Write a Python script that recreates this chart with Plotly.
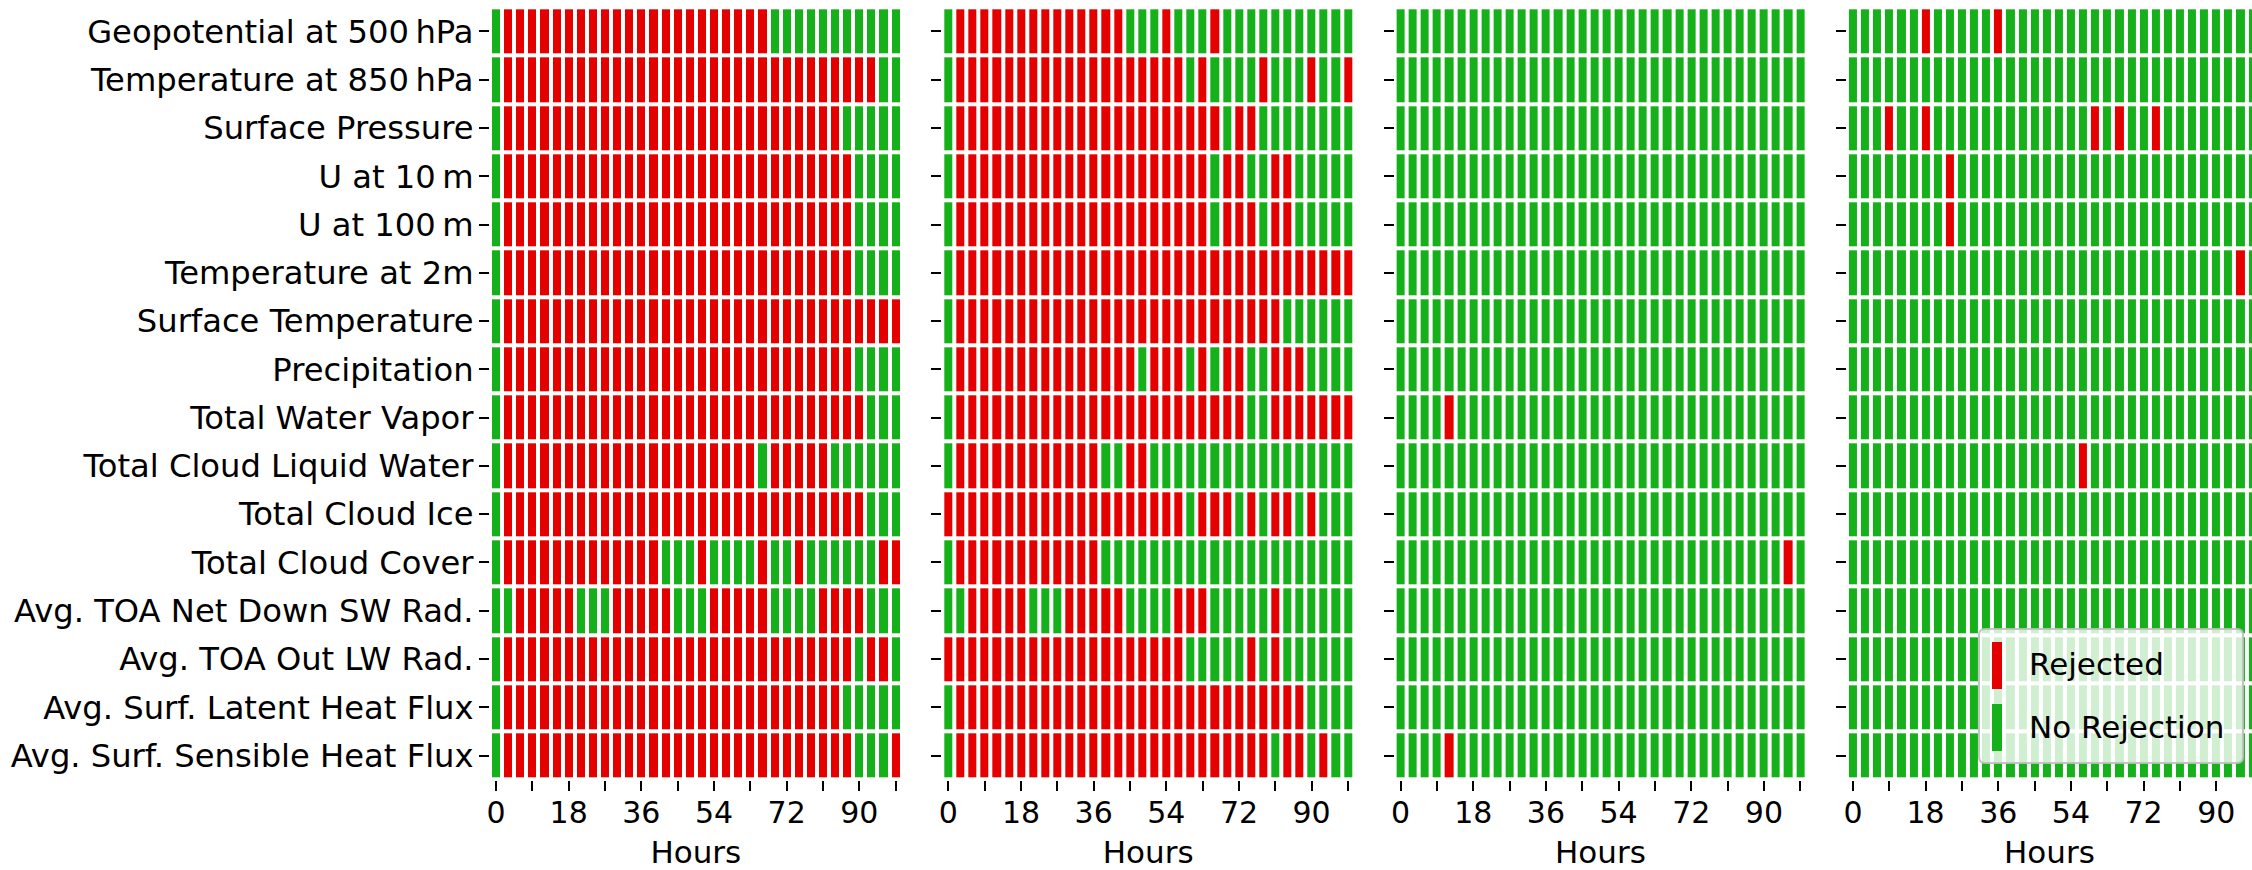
import plotly.graph_objects as go

# ---------------- data ----------------
VARIABLES = [
    "Geopotential at 500\u2009hPa",
    "Temperature at 850\u2009hPa",
    "Surface Pressure",
    "U at 10\u2009m",
    "U at 100\u2009m",
    "Temperature at 2m",
    "Surface Temperature",
    "Precipitation",
    "Total Water Vapor",
    "Total Cloud Liquid Water",
    "Total Cloud Ice",
    "Total Cloud Cover",
    "Avg. TOA Net Down SW Rad.",
    "Avg. TOA Out LW Rad.",
    "Avg. Surf. Latent Heat Flux",
    "Avg. Surf. Sensible Heat Flux",
]

HOURS = [0, 3, 6, 9, 12, 15, 18, 21, 24, 27, 30, 33, 36, 39, 42, 45, 48,
         51, 54, 57, 60, 63, 66, 69, 72, 75, 78, 81, 84, 87, 90, 93, 96, 99]

TICK_VALS = [0, 9, 18, 27, 36, 45, 54, 63, 72, 81, 90, 99]
TICK_TEXT = ["0", "", "18", "", "36", "", "54", "", "72", "", "90", ""]

LEGEND_LABELS = ["Rejected", "No Rejection"]

# 1 = rejected, 0 = no rejection; columns grouped by 6 (18 h) for readability
PANEL_1 = [
    "011111 111111 111111 111110 000000 0000",
    "011111 111111 111111 111111 111111 1100",
    "011111 111111 111111 111111 111110 0000",
    "011111 111111 111111 111111 111111 0000",
    "011111 111111 111111 111111 111111 0000",
    "011111 111111 111111 111111 111111 0000",
    "011111 111111 111111 111111 111111 1111",
    "011111 111111 111111 111111 111111 0000",
    "011111 111111 111111 111111 111111 1000",
    "011111 111111 111111 111101 111100 0000",
    "011111 111111 111111 111111 111111 1000",
    "011111 111111 110001 000010 010000 0011",
    "001111 100011 111000 111110 000111 1000",
    "011111 111111 111111 111111 111111 0110",
    "011111 111111 111111 111111 111110 0000",
    "011111 111111 111111 111111 111111 0001",
]

PANEL_2 = [
    "011111 111111 111000 100010 000000 0000",
    "011111 111111 111111 110100 001000 1001",
    "011111 111111 111111 111110 110000 0000",
    "011111 111111 111111 111101 100110 0000",
    "011111 111111 111111 111101 110110 0000",
    "011111 111111 111111 111111 111111 1111",
    "011111 111111 111111 111111 111100 0000",
    "011111 111111 111101 110101 100111 0000",
    "011111 111111 111111 111111 100111 1111",
    "011111 111111 100110 000000 000000 0000",
    "111111 111111 111111 110111 010110 1000",
    "011111 111111 100000 000000 000000 0000",
    "001111 100011 111000 011100 000100 0000",
    "111111 111111 111111 110000 010100 0000",
    "011111 111111 111111 111111 111111 0000",
    "011111 111111 111111 111111 111011 0100",
]

PANEL_3 = [
    "000000 000000 000000 000000 000000 0000",
    "000000 000000 000000 000000 000000 0000",
    "000000 000000 000000 000000 000000 0000",
    "000000 000000 000000 000000 000000 0000",
    "000000 000000 000000 000000 000000 0000",
    "000000 000000 000000 000000 000000 0000",
    "000000 000000 000000 000000 000000 0000",
    "000000 000000 000000 000000 000000 0000",
    "000010 000000 000000 000000 000000 0000",
    "000000 000000 000000 000000 000000 0000",
    "000000 000000 000000 000000 000000 0000",
    "000000 000000 000000 000000 000000 0010",
    "000000 000000 000000 000000 000000 0000",
    "000000 000000 000000 000000 000000 0000",
    "000000 000000 000000 000000 000000 0000",
    "000010 000000 000000 000000 000000 0000",
]

PANEL_4 = [
    "000000 100000 100000 000000 000000 0000",
    "000000 000000 000000 000000 000000 0000",
    "000100 100000 000000 001010 010000 0000",
    "000000 001000 000000 000000 000000 0000",
    "000000 001000 000000 000000 000000 0000",
    "000000 000000 000000 000000 000000 0010",
    "000000 000000 000000 000000 000000 0000",
    "000000 000000 000000 000000 000000 0000",
    "000000 000000 000000 000000 000000 0000",
    "000000 000000 000000 010000 000000 0000",
    "000000 000000 000000 000000 000000 0000",
    "000000 000000 000000 000000 000000 0000",
    "000000 000000 000000 000000 000000 0000",
    "000000 000000 000000 000000 000000 0000",
    "000000 000000 000000 000000 000000 0000",
    "000000 000000 000000 000000 000000 0000",
]

PANELS = [PANEL_1, PANEL_2, PANEL_3, PANEL_4]

# ---------------- style ----------------
RED = "#e50000"
GREEN = "#15b01a"
FONT = "DejaVu Sans"
W, H = 2252, 870


def to_matrix(rows):
    m = [[int(c) for c in r.replace(" ", "")] for r in rows]
    for r in m:
        assert len(r) == len(HOURS)
    return m


def px(x):
    return x / W


def py(y):
    return 1 - y / H


# panel geometry (pixels)
PANEL_LEFT = [490.0, 942.3, 1394.6, 1846.9]
PANEL_W = 411.7
Y_TOP, Y_BOT = 7.3, 779.7
HOUR_PX = PANEL_W / 102.0

fig = go.Figure()
colorscale = [[0, GREEN], [0.5, GREEN], [0.5, RED], [1, RED]]

for i, rows in enumerate(PANELS):
    sfx = "" if i == 0 else str(i + 1)
    fig.add_trace(go.Heatmap(
        x=HOURS, y=VARIABLES, z=to_matrix(rows),
        colorscale=colorscale, zmin=0, zmax=1, showscale=False,
        xgap=4, ygap=4,
        xaxis="x" + sfx, yaxis="y" + sfx,
    ))
    left = PANEL_LEFT[i]
    right = min(left + PANEL_W, W)
    x_end = -1.5 + (right - left) / HOUR_PX
    fig.layout["xaxis" + sfx] = dict(
        domain=[px(left), px(right)], anchor="y" + sfx,
        range=[-1.5, x_end], automargin=False,
        tickmode="array", tickvals=TICK_VALS, ticktext=TICK_TEXT,
        ticks="outside", ticklen=10, tickwidth=2, tickcolor="black",
        tickfont=dict(family=FONT, size=30, color="black"),
        ticklabelstandoff=-4,
        showgrid=False, zeroline=False, showline=False,
        title=dict(text="Hours", font=dict(family=FONT, size=31, color="black"),
                   standoff=18),
    )
    fig.layout["yaxis" + sfx] = dict(
        domain=[py(Y_BOT), py(Y_TOP)], anchor="x" + sfx, automargin=False,
        type="category", categoryorder="array", categoryarray=VARIABLES,
        range=[15.5, -0.5],
        ticks="outside", ticklen=10, tickwidth=2, tickcolor="black",
        showticklabels=(i == 0),
        tickfont=dict(family=FONT, size=32.2, color="black"),
        ticklabelstandoff=-1,
        showgrid=False, zeroline=False, showline=False,
    )

# ---------------- legend (drawn manually, matplotlib style) ----------------
lx0, lx1, ly0, ly1, r = 1979, 2243, 629, 763, 6


def rounded_path(x0, y0, x1, y1, r):
    return (f"M {px(x0 + r)},{py(y0)} L {px(x1 - r)},{py(y0)} "
            f"Q {px(x1)},{py(y0)} {px(x1)},{py(y0 + r)} "
            f"L {px(x1)},{py(y1 - r)} Q {px(x1)},{py(y1)} {px(x1 - r)},{py(y1)} "
            f"L {px(x0 + r)},{py(y1)} Q {px(x0)},{py(y1)} {px(x0)},{py(y1 - r)} "
            f"L {px(x0)},{py(y0 + r)} Q {px(x0)},{py(y0)} {px(x0 + r)},{py(y0)} Z")


shapes = [dict(type="path", xref="paper", yref="paper",
               path=rounded_path(lx0, ly0, lx1, ly1, r),
               fillcolor="rgba(255,255,255,0.8)",
               line=dict(color="rgba(190,190,190,0.9)", width=2), layer="above")]
patches = [(RED, 642, 689), (GREEN, 704, 751)]
for color, t, b in patches:
    shapes.append(dict(type="rect", xref="paper", yref="paper",
                       x0=px(1992), x1=px(2002), y0=py(b), y1=py(t),
                       fillcolor=color, line=dict(width=0), layer="above"))

annotations = []
for label, yc in zip(LEGEND_LABELS, [664, 727]):
    annotations.append(dict(text=label, xref="paper", yref="paper",
                            x=px(2027), y=py(yc), xanchor="left", yanchor="middle",
                            showarrow=False,
                            font=dict(family=FONT, size=31, color="black")))

fig.update_layout(
    template="none",
    width=W, height=H,
    margin=dict(l=0, r=0, t=0, b=0, autoexpand=False),
    paper_bgcolor="white", plot_bgcolor="white",
    showlegend=False,
    shapes=shapes, annotations=annotations,
    font=dict(family=FONT, color="black"),
)

# remove the browser's default 8px body margin so the figure sits at the page origin
fig.write_html("out.html",
               config={"displayModeBar": False},
               post_script="document.body.style.margin='0';"
                           "document.body.style.overflow='hidden';")
